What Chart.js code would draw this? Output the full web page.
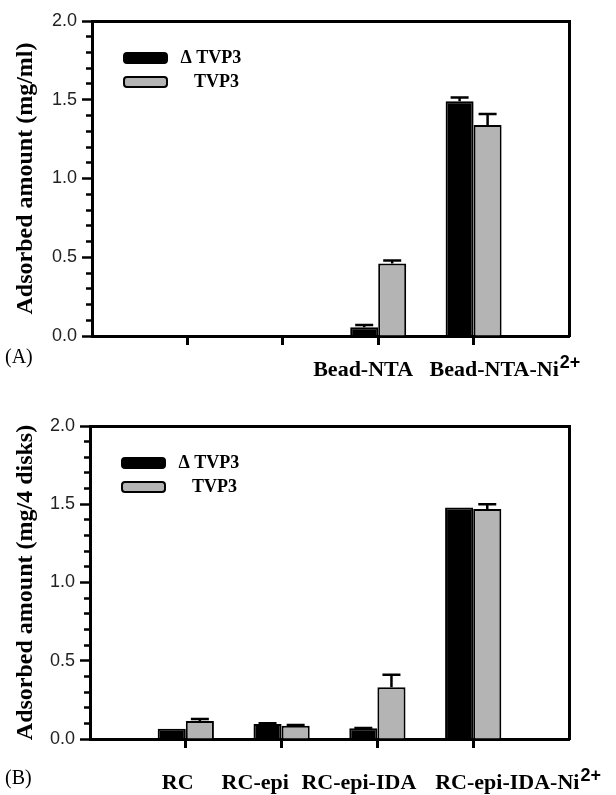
<!DOCTYPE html>
<html>
<head>
<meta charset="utf-8">
<script src="https://cdn.jsdelivr.net/npm/chart.js@4.4.1/dist/chart.umd.min.js"></script>
<style>
    html, body { margin: 0; padding: 0; background: #fff; }
    #wrap { position: relative; width: 616px; height: 795px; }
    canvas { position: absolute; left: 0; }
</style>
</head>
<body>
<div id="wrap">
    <canvas id="chartA" width="616" height="400" style="top:0"></canvas>
    <canvas id="chartB" width="616" height="395" style="top:400px"></canvas>
</div>
<script>
(() => {
    'use strict';

    // panel A (beads), values in mg/ml
    const categoriesA = ['', '', 'Bead-NTA', 'Bead-NTA-Ni2+'];
    const deltaA = [null, null, 0.055, 1.49];
    const deltaErrA = [0, 0, 0.015, 0.025];
    const tvpA = [null, null, 0.46, 1.34];
    const tvpErrA = [0, 0, 0.02, 0.07];

    // panel B (membranes), values in mg/4 disks
    const categoriesB = ['RC', 'RC-epi', 'RC-epi-IDA', 'RC-epi-IDA-Ni2+'];
    const deltaB = [0.065, 0.096, 0.068, 1.48];
    const deltaErrB = [0, 0.005, 0.003, 0];
    const tvpB = [0.115, 0.085, 0.33, 1.47];
    const tvpErrB = [0.013, 0.004, 0.08, 0.03];

    const seriesNames = ['\u0394 TVP3', 'TVP3'];
    const yTickValues = { min: 0, max: 2, minor: 0.1, major: 0.5 };

    const serif = '"Liberation Serif", "Times New Roman", serif';
    const sans = '"Liberation Sans", Arial, sans-serif';
    const legendIndent = [' ', '    '];

    const isMajor = (value) => Math.abs(value / yTickValues.major - Math.round(value / yTickValues.major)) < 1e-6;

    const errorBars = {
        id: 'errorBars',
        afterDatasetsDraw(chart) {
            const { ctx } = chart;
            const yScale = chart.scales.y;
            ctx.save();
            ctx.strokeStyle = '#000';
            ctx.lineWidth = 2.5;
            chart.data.datasets.forEach((ds, i) => {
                chart.getDatasetMeta(i).data.forEach((bar, j) => {
                    const value = ds.data[j];
                    const err = ds.errors[j];
                    if (value == null || !err) return;
                    const top = yScale.getPixelForValue(value + err);
                    ctx.beginPath();
                    ctx.moveTo(bar.x, bar.y);
                    ctx.lineTo(bar.x, top);
                    ctx.moveTo(bar.x - 9, top);
                    ctx.lineTo(bar.x + 9, top);
                    ctx.stroke();
                });
            });
            ctx.restore();
        },
    };

    const categoryLabels = {
        id: 'categoryLabels',
        afterDraw(chart, args, opts) {
            const { ctx } = chart;
            const xScale = chart.scales.x;
            ctx.save();
            ctx.fillStyle = '#000';
            ctx.textBaseline = 'middle';
            ctx.textAlign = 'left';
            opts.labels.forEach((text, i) => {
                if (!text) return;
                const match = text.match(/^(.*?)(\d\+)$/);
                const base = match ? match[1] : text;
                const left = xScale.getPixelForValue(i + 1) + opts.shift[i];
                ctx.font = `bold 22px ${serif}`;
                ctx.fillText(base, left, opts.y);
                if (match) {
                    const width = ctx.measureText(base).width;
                    ctx.font = `bold 18px ${sans}`;
                    ctx.fillText(match[2], left + width + 1, opts.y - 7);
                }
            });
            ctx.font = `20px ${serif}`;
            ctx.fillText(opts.panel, 5, opts.panelY);
            ctx.restore();
        },
    };

    const legendOffset = {
        id: 'legendOffset',
        afterLayout(chart, args, opts) {
            const legend = chart.legend;
            const area = chart.chartArea;
            if (!legend) return;
            legend.left = area.left + opts.dx;
            legend.top = area.top + opts.dy;
            legend.right = legend.left + legend.width;
            legend.bottom = area.bottom;
        },
    };

    const makeChart = (id, cfg) => {
        const canvas = document.getElementById(id);
        const W = canvas.width;
        const H = canvas.height;
        const slots = ['', ...cfg.categories, ''];
        return new Chart(canvas, {
            type: 'bar',
            data: {
                labels: slots,
                datasets: [
                    {
                        label: seriesNames[0],
                        data: [null, ...cfg.delta, null],
                        errors: [0, ...cfg.deltaErr, 0],
                        backgroundColor: '#000',
                        borderColor: '#000',
                        borderWidth: 2,
                    },
                    {
                        label: seriesNames[1],
                        data: [null, ...cfg.tvp, null],
                        errors: [0, ...cfg.tvpErr, 0],
                        backgroundColor: '#b4b4b4',
                        borderColor: '#000',
                        borderWidth: 2,
                    },
                ],
            },
            options: {
                responsive: false,
                animation: false,
                devicePixelRatio: 1,
                events: [],
                layout: { padding: 0 },
                datasets: { bar: { categoryPercentage: 0.587, barPercentage: 1 } },
                plugins: {
                    tooltip: { enabled: false },
                    legend: {
                        position: 'chartArea',
                        align: 'start',
                        labels: {
                            boxWidth: 43,
                            boxHeight: 10,
                            padding: 6,
                            useBorderRadius: true,
                            borderRadius: 3,
                            color: '#000',
                            font: { family: serif, size: 18, weight: 'bold' },
                            generateLabels: (chart) => chart.data.datasets.map((ds, i) => ({
                                text: legendIndent[i] + ds.label,
                                fillStyle: ds.backgroundColor,
                                strokeStyle: '#000',
                                lineWidth: 2,
                                borderRadius: 3,
                                datasetIndex: i,
                                hidden: false,
                                fontColor: '#000',
                            })),
                        },
                    },
                    legendOffset: { dx: 26, dy: 22 },
                    categoryLabels: {
                        labels: cfg.categories,
                        shift: cfg.labelShift,
                        y: cfg.labelY,
                        panel: cfg.panel,
                        panelY: cfg.panelY,
                    },
                },
                scales: {
                    x: {
                        type: 'category',
                        position: 'bottom',
                        offset: false,
                        grid: {
                            offset: false,
                            drawOnChartArea: false,
                            tickLength: 9,
                            tickWidth: 3,
                            tickColor: (c) => (c.index === 0 || c.index === slots.length - 1) ? 'rgba(0,0,0,0)' : '#000',
                        },
                        border: { color: '#000', width: 3 },
                        ticks: { display: false },
                        afterFit: (s) => { s.height = H - cfg.frame.bottom; },
                    },
                    xTop: {
                        type: 'linear',
                        position: 'top',
                        min: 0,
                        max: 1,
                        grid: { drawOnChartArea: false, drawTicks: false },
                        ticks: { display: false },
                        border: { color: '#000', width: 3 },
                        afterFit: (s) => { s.height = cfg.frame.top; },
                    },
                    y: {
                        min: yTickValues.min,
                        max: yTickValues.max,
                        border: { color: '#000', width: 3 },
                        grid: {
                            drawOnChartArea: false,
                            tickLength: 10,
                            tickWidth: 2.5,
                            tickColor: '#000',
                            tickBorderDash: (c) => (c.tick && isMajor(c.tick.value)) ? [] : [0, 4, 20],
                        },
                        ticks: {
                            stepSize: yTickValues.minor,
                            maxTicksLimit: 30,
                            autoSkip: false,
                            padding: 5,
                            color: '#222',
                            font: { family: sans, size: 18 },
                            callback: (value) => isMajor(value) ? Number(value).toFixed(1) : '',
                        },
                        title: {
                            display: true,
                            text: cfg.yTitle,
                            color: '#000',
                            font: { family: serif, size: 24, weight: 'bold' },
                            padding: { top: 11, bottom: 0 },
                        },
                        afterFit: (s) => { s.width = cfg.frame.left; },
                    },
                    yRight: {
                        type: 'linear',
                        position: 'right',
                        min: 0,
                        max: 1,
                        grid: { drawOnChartArea: false, drawTicks: false },
                        ticks: { display: false },
                        border: { color: '#000', width: 3 },
                        afterFit: (s) => { s.width = W - cfg.frame.right; },
                    },
                },
            },
            plugins: [errorBars, categoryLabels, legendOffset],
        });
    };

    makeChart('chartA', {
        categories: categoriesA,
        delta: deltaA,
        deltaErr: deltaErrA,
        tvp: tvpA,
        tvpErr: tvpErrA,
        yTitle: 'Adsorbed amount (mg/ml)',
        panel: '(A)',
        frame: { left: 92, right: 569, top: 21, bottom: 336 },
        labelShift: [0, 0, -65, -44],
        labelY: 370,
        panelY: 358,
    });

    makeChart('chartB', {
        categories: categoriesB,
        delta: deltaB,
        deltaErr: deltaErrB,
        tvp: tvpB,
        tvpErr: tvpErrB,
        yTitle: 'Adsorbed amount (mg/4 disks)',
        panel: '(B)',
        frame: { left: 90, right: 569, top: 26, bottom: 339 },
        labelShift: [-24, -60, -76, -38],
        labelY: 383,
        panelY: 379,
    });
})();
</script>
</body>
</html>
